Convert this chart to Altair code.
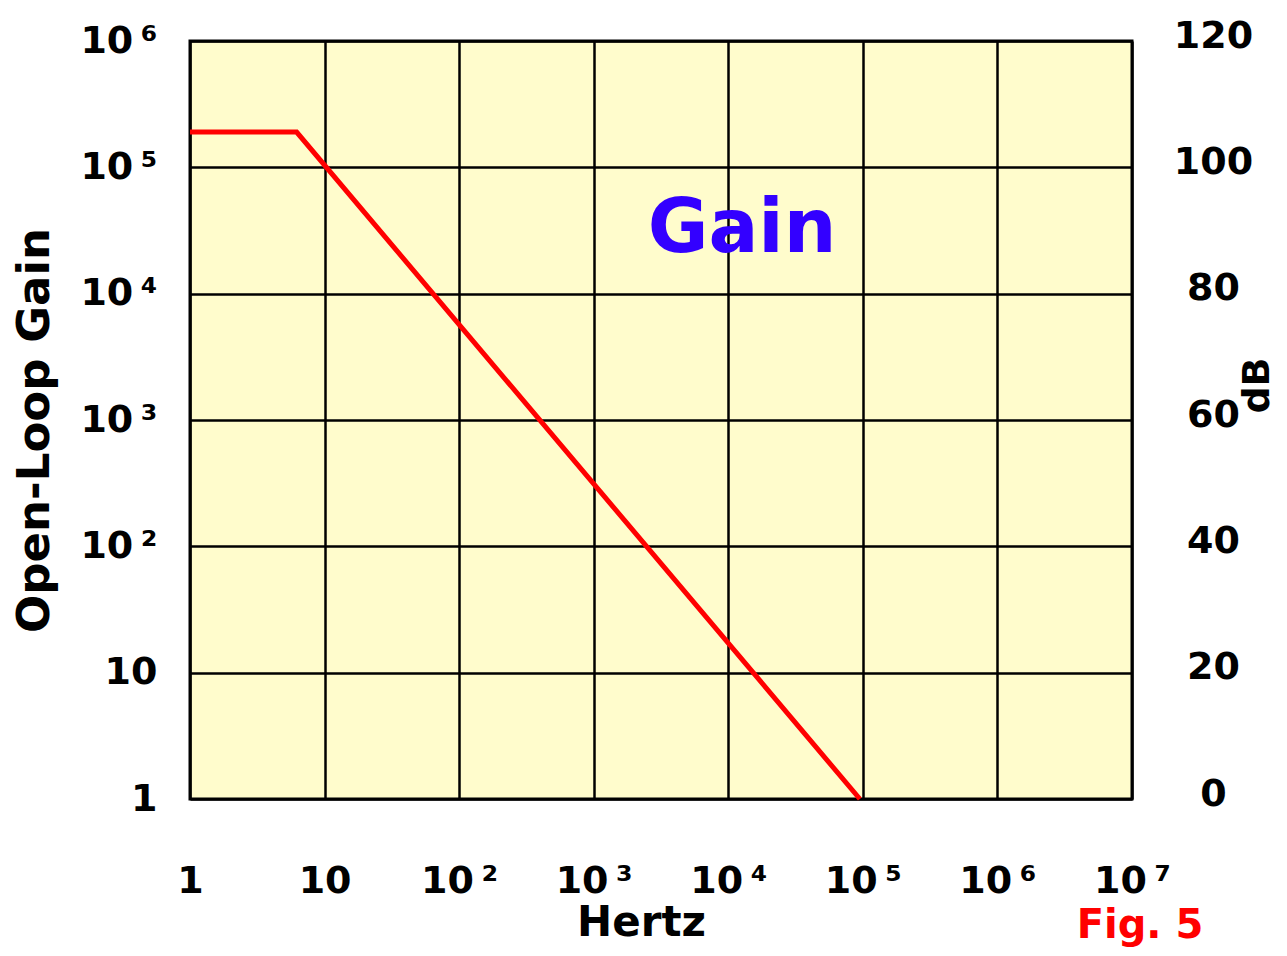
import json
import altair as alt
import pandas as pd

# ---- data ----
freq_hz = [1, 6.2, 95000]
open_loop_gain = [1.9e5, 1.9e5, 1]

x_ticks = [1, 10, 100, 1e3, 1e4, 1e5, 1e6, 1e7]
x_labels = ["1", "10", "\u2002\u200910\u2009\u00b2", "\u2002\u200910\u2009\u00b3",
            "\u2002\u200910\u2009\u2074", "\u2002\u200910\u2009\u2075",
            "\u2002\u200910\u2009\u2076", "\u2002\u200910\u2009\u2077"]
y_ticks = [1, 10, 100, 1e3, 1e4, 1e5, 1e6]
y_labels = ["1\u2007", "10\u2007", "10\u2009\u00b2", "10\u2009\u00b3",
            "10\u2009\u2074", "10\u2009\u2075", "10\u2009\u2076"]
db_ticks = [0, 20, 40, 60, 80, 100, 120]

FONT = "DejaVu Sans"
BG = "#FFFCCC"
TICK_FS = 38

line_df = pd.DataFrame({"Hertz": freq_hz, "Gain": open_loop_gain})
db_df = pd.DataFrame({"dB": db_ticks})

x_expr = json.dumps(x_labels, ensure_ascii=False) + "[round(log(datum.value)/LN10)]"
y_expr = json.dumps(y_labels, ensure_ascii=False) + "[round(log(datum.value)/LN10)]"

x_enc = alt.X(
    "Hertz:Q",
    scale=alt.Scale(type="log", domain=[1, 1e7], nice=False),
    axis=alt.Axis(
        values=x_ticks, labelExpr=x_expr, title="Hertz",
        labelFont=FONT, labelFontWeight="bold", labelFontSize=TICK_FS, labelColor="black",
        labelBaseline="alphabetic", labelPadding=93, labelAlign="center",
        labelFlush=False, labelOverlap=False,
        ticks=False, tickSize=0, domain=False,
        grid=True, gridColor="black", gridWidth=2.5, gridOpacity=1,
        titleFont=FONT, titleFontWeight="bold", titleFontSize=42, titleColor="black",
        titleX=451, titleY=136, titleBaseline="alphabetic", titleAlign="center",
    ),
)

line = alt.Chart(line_df).mark_line(color="#FF0000", strokeWidth=5).encode(
    x=x_enc,
    y=alt.Y(
        "Gain:Q",
        scale=alt.Scale(type="log", domain=[1, 1e6], nice=False),
        axis=alt.Axis(
            values=y_ticks, labelExpr=y_expr, title="Open-Loop Gain",
            labelFont=FONT, labelFontWeight="bold", labelFontSize=TICK_FS, labelColor="black",
            labelBaseline="middle", labelPadding=33, labelAlign="right",
            labelFlush=False, labelOverlap=False,
            ticks=False, tickSize=0, domain=False,
            grid=True, gridColor="black", gridWidth=2.5, gridOpacity=1,
            titleFont=FONT, titleFontWeight="bold", titleFontSize=45, titleColor="black",
            titleAngle=270, titleX=-156, titleY=389, titleAlign="center",
            titleBaseline="middle",
        ),
    ),
)

db_layer = alt.Chart(db_df).mark_point(opacity=0).encode(
    y=alt.Y(
        "dB:Q",
        scale=alt.Scale(domain=[0, 120], nice=False),
        axis=alt.Axis(
            orient="right", values=db_ticks, title="dB", grid=False,
            labelFont=FONT, labelFontWeight="bold", labelFontSize=TICK_FS, labelColor="black",
            labelBaseline="middle", labelPadding=81, labelAlign="center", labelOffset=-5,
            labelFlush=False, labelOverlap=False,
            ticks=False, tickSize=0, domain=False,
            titleFont=FONT, titleFontWeight="bold", titleFontSize=38, titleColor="black",
            titleAngle=270, titleX=125, titleY=344, titleAlign="center",
            titleBaseline="middle",
        ),
    ),
)

gain_text = alt.Chart(pd.DataFrame({"t": ["Gain"]})).mark_text(
    font=FONT, fontWeight="bold", fontSize=74, color="#3300FF",
    align="center", baseline="middle",
).encode(text="t:N", x=alt.value(552), y=alt.value(189))

fig_text = alt.Chart(pd.DataFrame({"t": ["Fig. 5"]})).mark_text(
    font=FONT, fontWeight="bold", fontSize=40, color="#FF0000",
    align="center", baseline="alphabetic",
).encode(text="t:N", x=alt.value(950), y=alt.value(897))

chart = (
    alt.layer(line, db_layer, gain_text, fig_text)
    .resolve_scale(y="independent")
    .properties(
        width=942, height=758,
        autosize=alt.AutoSizeParams(type="none"),
        padding={"left": 182, "top": 33, "right": 147, "bottom": 149},
        background="white",
    )
    .configure_view(fill=BG, stroke="black", strokeWidth=3)
)

chart.save("out.html", embed_options={"renderer": "svg", "actions": False})
